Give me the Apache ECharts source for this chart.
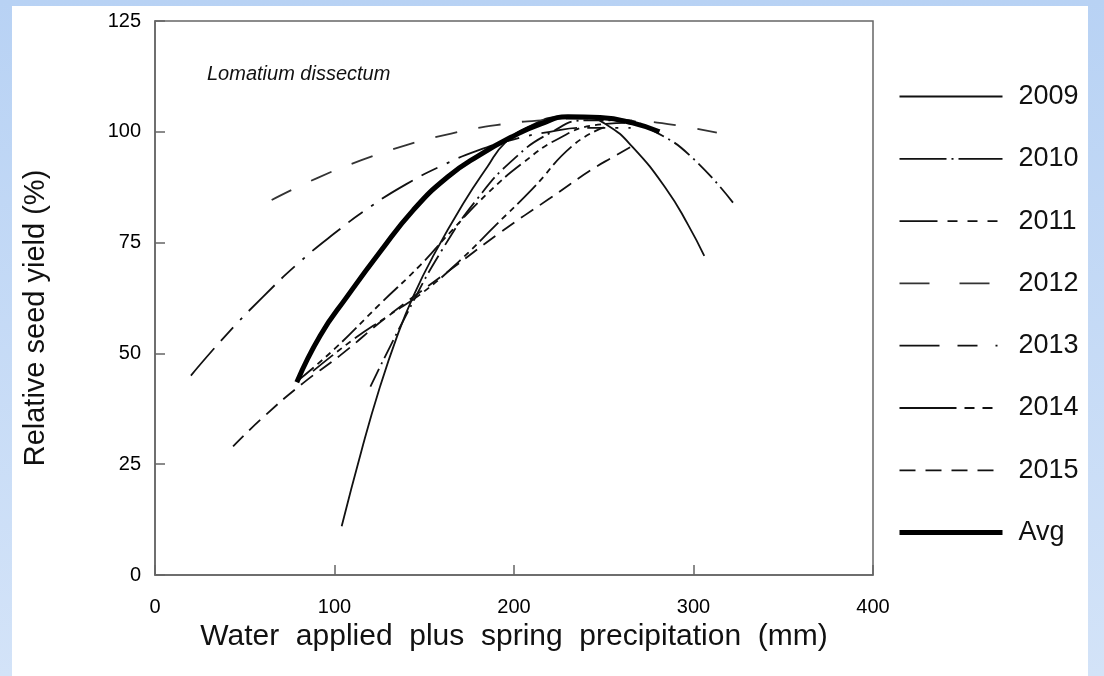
<!DOCTYPE html>
<html><head><meta charset="utf-8">
<script src="https://cdn.jsdelivr.net/npm/echarts@6/dist/echarts.min.js"></script>
<style>
html,body{margin:0;padding:0;width:1104px;height:676px;overflow:hidden;background:linear-gradient(180deg,#b8d2f4 0%,#d3e3f8 100%);}
#chart{position:absolute;left:12px;top:6px;width:1076px;height:670px;background:#fff;}
</style></head><body><div id="chart"></div>
<script>
const seriesNames = ['2009','2010','2011','2012','2013','2014','2015','Avg'];
const xTicks = [0,100,200,300,400];
const yTicks = [0,25,50,75,100,125];
// [water (mm), relative seed yield (%)]
const d2009 = [[104,11],[115,28],[125,42],[135,54],[144,63],[155,72],[172,84],[185,92],[195,97.5],[210,101.5],[225,103.3],[240,103.2],[252,101.5],[266,96.6],[285,87],[297,79],[306,72]];
const d2010 = [[120,42.5],[140,58.7],[160,73.4],[180,85.1],[200,93.9],[220,99.7],[240,102.6],[260,102.6],[280,99.7],[300,93.9],[323,83.5]];
const d2011 = [[80,44],[100,51],[125,61],[148,70],[166,78],[185,86],[205,93],[225,98.5],[245,101.5],[262,102]];
const d2012 = [[65,84.6],[90,89.5],[115,93.6],[140,97],[165,99.6],[190,101.5],[215,102.6],[240,103],[265,102.6],[290,101.5],[313,99.8]];
const d2013 = [[20,45],[40,54.3],[60,62.7],[80,70.4],[100,77.1],[120,83.1],[140,88.2],[160,92.4],[180,95.8],[200,98.3],[220,100],[240,100.9],[265,100.9]];
const d2014 = [[88,46],[110,53],[130,58.5],[150,64],[170,71],[190,79],[210,87],[233,97],[250,101]];
const d2015 = [[43.5,29],[60,35.5],[82.5,43.3],[103,49.5],[130,58.5],[163,68.4],[192,77.2],[220,85],[243,91.4],[256,94.5],[268,97.3]];
const dAvg = [[79,43.5],[92,54],[107,62.8],[125,72.7],[144,82.4],[163,89.8],[181,94.8],[199,98.9],[215,101.8],[230,103.4],[248,103.2],[266,102],[281,100]];

const dataList = [d2009,d2010,d2011,d2012,d2013,d2014,d2015,dAvg];
const dashes = ['solid',[20,5,2,5],[20,5,6,5,6,5,6,5],[22,22],[36,10,18,10,3,10],[26,5,6,5,6,5],[15,8],'solid'];
const legendDashes = ['solid',[47,5,2,5],[38,10,10,10,10,10,10,10],[30,30],[40,18,20,18,2,10],[57,8,10,8,10,12],[16,10],'solid'];
const widths = [1.8,1.8,1.8,1.8,1.8,1.8,1.8,5];
const colors = ['#111','#111','#111','#333','#111','#111','#111','#000'];

const chart = echarts.init(document.getElementById('chart'));
const font = '"Liberation Sans", Arial, sans-serif';
chart.setOption({
  animation:false,
  backgroundColor:'#fff',
  title:{text:'Lomatium dissectum',left:190,top:53,textStyle:{fontFamily:font,fontStyle:'italic',fontWeight:'normal',fontSize:20,color:'#111'}},
  grid:{left:143,top:15,right:215,bottom:101,show:true,borderColor:'#666',borderWidth:1.5,backgroundColor:'transparent'},
  legend:{orient:'vertical',left:880,top:72,itemWidth:103,itemHeight:20,itemGap:35.3,
    itemStyle:{opacity:0},
    data: seriesNames.map((n,i)=>({name:n,itemStyle:{opacity:0},lineStyle:{width:widths[i],type:legendDashes[i],color:colors[i]}})),
    textStyle:{fontFamily:font,fontSize:27,color:'#111',padding:[0,0,0,11]}},
  xAxis:{type:'value',min:xTicks[0],max:xTicks[xTicks.length-1],interval:100,
    name:'Water  applied  plus  spring  precipitation  (mm)',nameLocation:'middle',nameGap:47,
    nameTextStyle:{fontFamily:font,fontSize:30,color:'#111'},
    axisLine:{lineStyle:{color:'#666',width:1.5}},
    axisTick:{inside:true,length:10,lineStyle:{color:'#666',width:1.5}},
    axisLabel:{fontFamily:font,fontSize:20,color:'#000',margin:22},
    splitLine:{show:false}},
  yAxis:{type:'value',min:yTicks[0],max:yTicks[yTicks.length-1],interval:25,
    name:'Relative seed yield (%)',nameLocation:'middle',nameGap:105,
    nameTextStyle:{fontFamily:font,fontSize:29,color:'#111',padding:[0,40,0,0]},
    axisLine:{lineStyle:{color:'#666',width:1.5}},
    axisTick:{inside:true,length:10,lineStyle:{color:'#666',width:1.5}},
    axisLabel:{fontFamily:font,fontSize:20,color:'#000',margin:14},
    splitLine:{show:false}},
  series: seriesNames.map((n,i)=>({
    name:n,type:'line',data:dataList[i],smooth:true,symbol:'none',
    z: i===7?5:2,
    itemStyle:{color:colors[i]},
    lineStyle:{color:colors[i],width:widths[i],type:dashes[i]}
  }))
});
</script></body></html>
